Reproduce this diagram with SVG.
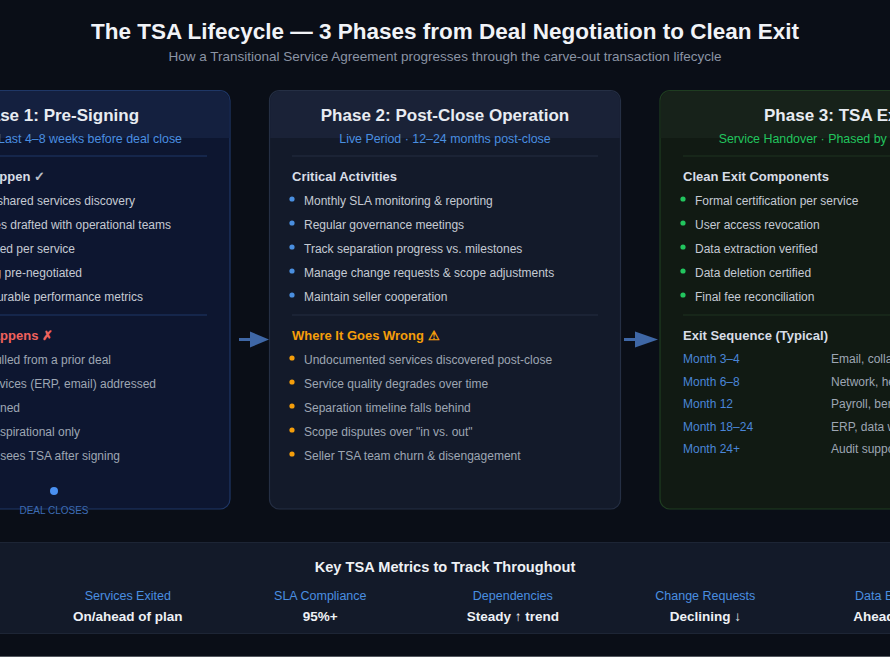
<svg xmlns="http://www.w3.org/2000/svg" width="890" height="657" viewBox="0 0 890 657">
<style>
text{font-family:"Liberation Sans",Arial,sans-serif}
.title{font-size:22.5px;font-weight:bold;fill:#f1f3f7}
.sub{font-size:13.5px;fill:#8b94a5}
.ph{font-size:17px;font-weight:bold;fill:#e8ecf2;text-anchor:middle}
.phs{font-size:12.4px}
.sec{font-size:13px;font-weight:bold;fill:#d8dde6}
.it{font-size:12px;fill:#c5cad3}
.itb{font-size:12px;fill:#9ea6b3}
.blue{fill:#4a8fe0}
.green{fill:#22c55e}
.orange{fill:#f59e0b}
.red{fill:#f0625d}
.mon{font-size:12px;fill:#4a86d8}
.arrow{fill:#3f67a6}
.arrowl{stroke:#3f67a6;stroke-width:3}
.ml{font-size:12.5px;fill:#4a8fe0;text-anchor:middle}
.mv{font-size:13.5px;font-weight:bold;fill:#eef1f5;text-anchor:middle}
</style>
<rect width="890" height="657" fill="#0a0e17"/>
<text class="title" x="445" y="38.5" text-anchor="middle">The TSA Lifecycle — 3 Phases from Deal Negotiation to Clean Exit</text>
<text class="sub" x="445" y="61" text-anchor="middle">How a Transitional Service Agreement progresses through the carve-out transaction lifecycle</text>

<g id="phase1">
<rect x="-122" y="90.5" width="352" height="418.5" rx="10" fill="#0d1630" stroke="#1f3766" stroke-width="1.2"/>
<path d="M-121.4,138 V101 A10,10 0 0 1 -111.4,91.1 H219.4 A10,10 0 0 1 229.4,101 V138 Z" fill="#14203f"/>
<text class="ph" x="54" y="120.5">Phase 1: Pre-Signing</text>
<text class="phs blue" x="182" y="143" text-anchor="end">Last 4–8 weeks before deal close</text>
<line x1="-99" y1="156" x2="207" y2="156" stroke="#1f3766"/>
<text class="sec" x="45" y="181" text-anchor="end">What Should Happen <tspan fill="#b8bec9">✓</tspan></text>
<g text-anchor="end">
<text class="it" x="135" y="205">Comprehensive shared services discovery</text>
<text class="it" x="171" y="229">Service schedules drafted with operational teams</text>
<text class="it" x="75" y="253">SLAs defined per service</text>
<text class="it" x="82" y="277">Pricing pre-negotiated</text>
<text class="it" x="143" y="301">Measurable performance metrics</text>
</g>
<line x1="-99" y1="315" x2="207" y2="315" stroke="#1f3766"/>
<text class="sec red" x="53" y="340" text-anchor="end">What Usually Happens ✗</text>
<g text-anchor="end">
<text class="itb" x="111" y="364">Template pulled from a prior deal</text>
<text class="itb" x="156" y="388">Only major services (ERP, email) addressed</text>
<text class="itb" x="20" y="412">Exit not planned</text>
<text class="itb" x="80" y="436">SLAs aspirational only</text>
<text class="itb" x="120" y="460">Ops team first sees TSA after signing</text>
</g>
<circle cx="54" cy="491" r="4" fill="#4a90f0"/>
<text x="54" y="514" text-anchor="middle" font-size="10" fill="#3d6cb5">DEAL CLOSES</text>
</g>

<g id="phase2">
<rect x="269.5" y="90.5" width="351" height="418.5" rx="10" fill="#131a2a" stroke="#252f44" stroke-width="1.2"/>
<path d="M270.1,138 V101 A10,10 0 0 1 280.1,91.1 H609.9 A10,10 0 0 1 619.9,101 V138 Z" fill="#1a2237"/>
<text class="ph" x="445" y="120.5">Phase 2: Post-Close Operation</text>
<text class="phs blue" x="445" y="143" text-anchor="middle">Live Period · 12–24 months post-close</text>
<line x1="292" y1="156" x2="598" y2="156" stroke="#242d40"/>
<text class="sec" x="292" y="181">Critical Activities</text>
<g class="blue">
<circle cx="292" cy="199" r="2.6"/><circle cx="292" cy="223" r="2.6"/><circle cx="292" cy="247" r="2.6"/><circle cx="292" cy="271" r="2.6"/><circle cx="292" cy="295" r="2.6"/>
</g>
<text class="it" x="304" y="205">Monthly SLA monitoring &amp; reporting</text>
<text class="it" x="304" y="229">Regular governance meetings</text>
<text class="it" x="304" y="253">Track separation progress vs. milestones</text>
<text class="it" x="304" y="277">Manage change requests &amp; scope adjustments</text>
<text class="it" x="304" y="301">Maintain seller cooperation</text>
<line x1="292" y1="315" x2="598" y2="315" stroke="#242d40"/>
<text class="sec orange" x="292" y="340">Where It Goes Wrong ⚠</text>
<g class="orange">
<circle cx="292" cy="358" r="2.6"/><circle cx="292" cy="382" r="2.6"/><circle cx="292" cy="406" r="2.6"/><circle cx="292" cy="430" r="2.6"/><circle cx="292" cy="454" r="2.6"/>
</g>
<text class="itb" x="304" y="364">Undocumented services discovered post-close</text>
<text class="itb" x="304" y="388">Service quality degrades over time</text>
<text class="itb" x="304" y="412">Separation timeline falls behind</text>
<text class="itb" x="304" y="436">Scope disputes over "in vs. out"</text>
<text class="itb" x="304" y="460">Seller TSA team churn &amp; disengagement</text>
</g>

<g id="phase3">
<rect x="660" y="90.5" width="352" height="418.5" rx="10" fill="#111a13" stroke="#1f3d21" stroke-width="1.2"/>
<path d="M660.6,138 V101 A10,10 0 0 1 670.6,91.1 H1001 A10,10 0 0 1 1011.4,101 V138 Z" fill="#17221a"/>
<text class="ph" x="836" y="120.5">Phase 3: TSA Exit</text>
<text class="phs green" x="718.7" y="143">Service Handover · Phased by workstream</text>
<line x1="683" y1="156" x2="989" y2="156" stroke="#1f3320"/>
<text class="sec" x="683" y="181">Clean Exit Components</text>
<g class="green">
<circle cx="683" cy="199" r="2.6"/><circle cx="683" cy="223" r="2.6"/><circle cx="683" cy="247" r="2.6"/><circle cx="683" cy="271" r="2.6"/><circle cx="683" cy="295" r="2.6"/>
</g>
<text class="it" x="695" y="205">Formal certification per service</text>
<text class="it" x="695" y="229">User access revocation</text>
<text class="it" x="695" y="253">Data extraction verified</text>
<text class="it" x="695" y="277">Data deletion certified</text>
<text class="it" x="695" y="301">Final fee reconciliation</text>
<line x1="683" y1="315" x2="989" y2="315" stroke="#1f3320"/>
<text class="sec" x="683" y="340">Exit Sequence (Typical)</text>
<text class="mon" x="683" y="363">Month 3–4</text>
<text class="mon" x="683" y="385.5">Month 6–8</text>
<text class="mon" x="683" y="408">Month 12</text>
<text class="mon" x="683" y="430.5">Month 18–24</text>
<text class="mon" x="683" y="453">Month 24+</text>
<text class="itb" x="831" y="363">Email, collaboration tools</text>
<text class="itb" x="831" y="385.5">Network, helpdesk</text>
<text class="itb" x="831" y="408">Payroll, benefits</text>
<text class="itb" x="831" y="430.5">ERP, data warehouse</text>
<text class="itb" x="831" y="453">Audit support</text>
</g>

<g id="connectors">
<line class="arrowl" x1="239" y1="339.5" x2="252" y2="339.5"/>
<polygon class="arrow" points="250,331.5 269,339.5 250,347.5"/>
<line class="arrowl" x1="624" y1="339.5" x2="637" y2="339.5"/>
<polygon class="arrow" points="635,331.5 658,339.5 635,347.5"/>
</g>

<g id="metrics">
<rect x="-10" y="542.5" width="910" height="91" fill="#131a29" stroke="#1d2535"/>
<text x="445" y="572" text-anchor="middle" font-size="14.6" font-weight="bold" fill="#eef1f5">Key TSA Metrics to Track Throughout</text>
<text class="ml" x="127.8" y="600">Services Exited</text>
<text class="mv" x="127.8" y="621">On/ahead of plan</text>
<text class="ml" x="320.3" y="600">SLA Compliance</text>
<text class="mv" x="320.3" y="621">95%+</text>
<text class="ml" x="512.8" y="600">Dependencies</text>
<text class="mv" x="512.8" y="621">Steady ↑ trend</text>
<text class="ml" x="705.3" y="600">Change Requests</text>
<text class="mv" x="705.3" y="621">Declining ↓</text>
<text class="ml" x="897.8" y="600">Data Extraction</text>
<text class="mv" x="897.8" y="621">Ahead of plan</text>
</g>
<rect x="0" y="656" width="890" height="1" fill="#54585f"/>
</svg>
